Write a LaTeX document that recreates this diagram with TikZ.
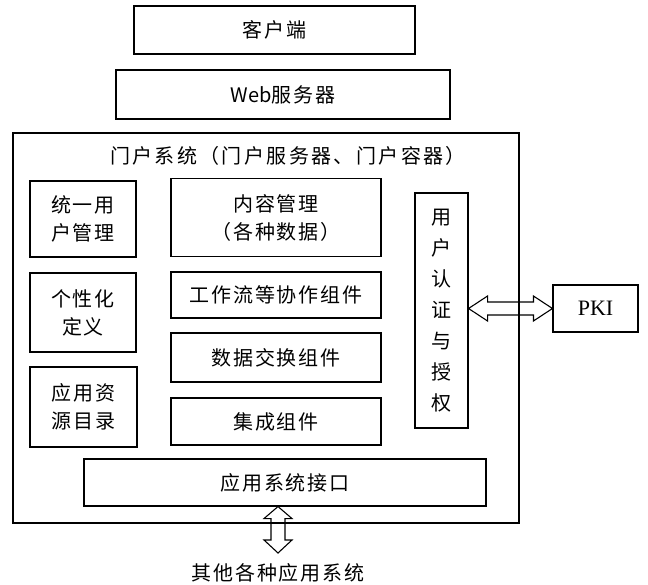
\documentclass[tikz,border=0pt]{standalone}
\usepackage{fontspec}
\newfontfamily\cjk[LetterSpace=9]{Noto Sans CJK SC}
\newfontfamily\cjkwide[LetterSpace=12]{Noto Sans CJK SC}
\newfontfamily\cjkplain{Noto Sans CJK SC}
\newfontfamily\pkifont{Liberation Serif}
\usetikzlibrary{calc}
\begin{document}
\begin{tikzpicture}[x=1pt,y=-1pt,
  box/.style={draw, line width=1.1pt, inner sep=0pt, align=center,
    font=\cjk\fontsize{20}{28}\selectfont},
  lbl/.style={inner sep=0pt, align=center, font=\cjk\fontsize{20}{28}\selectfont},
  blockarrow/.style={draw, line width=1.1pt, line join=miter}]
\useasboundingbox (0,0) rectangle (648,585);
\fill[white] (0,0) rectangle (648,585);

\node[box, minimum width=281pt, minimum height=48pt] (client) at (274.5,30) {客户端};
\node[box, minimum width=334pt, minimum height=49pt] (web) at (283,94.5) {{\cjkplain Web}服务器};

\node[box, minimum width=506pt, minimum height=390pt] (portal) at (266,328) {};
\node[lbl, font=\cjkwide\fontsize{20}{28}\selectfont] (title) at (288,156) {门户系统（门户服务器、门户容器）};

\node[box, minimum width=106pt, minimum height=76pt] (user) at (83,219) {统一用\\户管理};
\node[box, minimum width=106pt, minimum height=79pt] (pers) at (83,312.5) {个性化\\定义};
\node[box, minimum width=107pt, minimum height=80pt] (res) at (83.5,407) {应用资\\源目录};

\node[box, minimum width=210pt, minimum height=78pt] (content) at (276,217.5) {内容管理\\（各种数据）};
\node[box, minimum width=210pt, minimum height=46pt] (flow) at (276,295) {工作流等协作组件};
\node[box, minimum width=210pt, minimum height=49pt] (xchg) at (276,357.5) {数据交换组件};
\node[box, minimum width=210pt, minimum height=47pt] (integ) at (276,421.5) {集成组件};

\node[box, minimum width=53pt, minimum height=235pt,
  font=\cjkplain\fontsize{20}{31}\selectfont] (auth) at (441.5,310.5) {用\\户\\认\\证\\与\\授\\权};

\node[box, minimum width=85pt, minimum height=47pt,
  font=\pkifont\fontsize{22}{26}\selectfont] (pki) at (595.5,308.5) {PKI};

\node[box, minimum width=402pt, minimum height=47pt] (iface) at (285,482.5) {应用系统接口};

\node[lbl] (others) at (278,573) {其他各种应用系统};
\coordinate (arrowEnd) at (278,553);

% horizontal double block arrow auth <-> PKI
\draw[blockarrow] let \p1=(auth.east), \p2=(pki.west) in
  (\x1,\y2) -- (\x1+19pt,\y2+12.5pt) -- (\x1+19pt,\y2+6.5pt) -- (\x2-19pt,\y2+6.5pt)
  -- (\x2-19pt,\y2+12.5pt) -- (\x2,\y2) -- (\x2-19pt,\y2-12.5pt) -- (\x2-19pt,\y2-6.5pt)
  -- (\x1+19pt,\y2-6.5pt) -- (\x1+19pt,\y2-12.5pt) -- cycle;

% vertical double block arrow interface <-> other systems
\draw[blockarrow] let \p1=(arrowEnd |- iface.south), \p2=(arrowEnd) in
  (\x1,\y1) -- (\x1+14pt,\y1-12pt) -- (\x1+7pt,\y1-12pt) -- (\x1+7pt,\y2+13pt)
  -- (\x1+14pt,\y2+13pt) -- (\x2,\y2) -- (\x1-14pt,\y2+13pt) -- (\x1-7pt,\y2+13pt)
  -- (\x1-7pt,\y1-12pt) -- (\x1-14pt,\y1-12pt) -- cycle;
\end{tikzpicture}
\end{document}
